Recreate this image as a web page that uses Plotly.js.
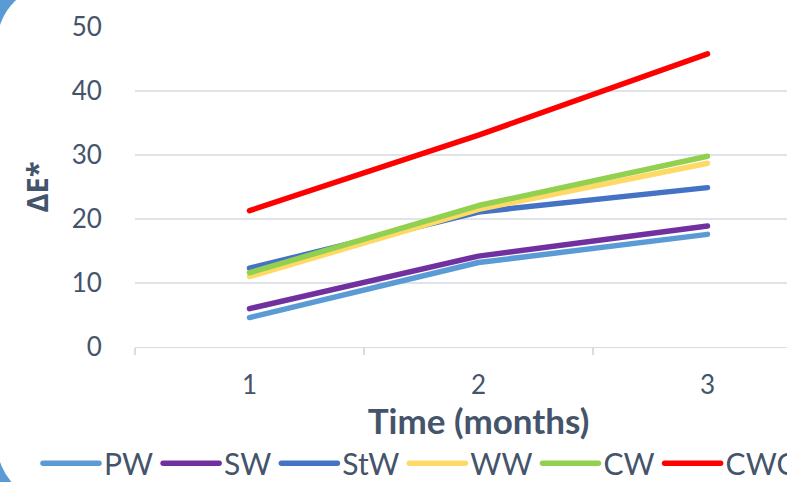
<!DOCTYPE html>
<html>
<head>
<meta charset="utf-8">
<script src="https://cdn.plot.ly/plotly-3.0.1.min.js"></script>
<style>
  html, body { margin: 0; padding: 0; overflow: hidden; background: #5B9BD5; }
  #wrap { position: relative; width: 787px; height: 482px; overflow: hidden; background: #5B9BD5; }
  #frame { position: absolute; left: -3.5px; top: -15.7px; width: 960px; height: 518.5px; border-radius: 60px; background: #ffffff; }
  #chart { position: absolute; left: 0; top: 0; width: 900px; height: 482px; }
  #chart .js-line { stroke-linecap: round; stroke-linejoin: round; }
</style>
</head>
<body>
<div id="wrap"><div id="frame"></div><div id="chart"></div></div>
<script>
const months = [1, 2, 3];
const tickLabels = ['1', '2', '3'];
const seriesNames = ['PW', 'SW', 'StW', 'WW', 'CW', 'CWC'];
const PW  = [4.6, 13.2, 17.6];
const SW  = [6.0, 14.2, 18.9];
const StW = [12.3, 21.1, 24.9];
const WW  = [11.0, 21.5, 28.7];
const CW  = [11.6, 22.1, 29.8];
const CWC = [21.3, 33.1, 45.8];
const seriesValues = [PW, SW, StW, WW, CW, CWC];
const seriesColors = ['#5B9BD5', '#7030A0', '#4472C4', '#FFD966', '#92D050', '#FF0000'];

const textColor = '#44546A';
const gridColor = '#e0e3e8';
const W = 900;
const plotL = 135, plotR = 822, plotT = 27, plotB = 347.5;
const plotW = plotR - plotL, plotH = plotB - plotT;

const traces = seriesNames.map((n, i) => ({
  type: 'scatter',
  mode: 'lines',
  name: n,
  x: months,
  y: seriesValues[i],
  line: { color: seriesColors[i], width: 5.5 }
}));

const layout = {
  width: W,
  height: 482,
  margin: { l: plotL, r: W - plotR, t: plotT, b: 482 - plotB, autoexpand: false },
  paper_bgcolor: 'rgba(0,0,0,0)',
  plot_bgcolor: 'rgba(0,0,0,0)',
  font: { family: 'Lato, "Open Sans", sans-serif', color: textColor, size: 26 },
  showlegend: true,
  legend: {
    orientation: 'h',
    xref: 'paper', yref: 'paper',
    x: (38 - plotL) / plotW, xanchor: 'left',
    y: -(438 - plotB) / plotH, yanchor: 'top',
    itemwidth: 56,
    font: { size: 30, color: textColor },
    bgcolor: 'rgba(0,0,0,0)'
  },
  xaxis: {
    type: 'linear',
    range: [0.5, 3.5],
    tickmode: 'array',
    tickvals: months,
    ticktext: tickLabels,
    ticks: 'outside',
    ticklen: 14,
    tickcolor: 'rgba(0,0,0,0)',
    showgrid: false,
    zeroline: false,
    showline: true,
    linecolor: '#d9dde3',
    linewidth: 1.3,
    minor: { tickmode: 'array', tickvals: [0.5, 1.5, 2.5, 3.5], ticks: 'outside', ticklen: 7, tickcolor: '#d9dde3', tickwidth: 1.3, showgrid: false },
    tickfont: { size: 26, color: textColor },
    title: { text: 'Time (months)', standoff: 2, font: { size: 35, color: textColor, weight: 'bold' } },
    fixedrange: true
  },
  yaxis: {
    range: [0, 50],
    tickmode: 'array',
    tickvals: [0, 10, 20, 30, 40, 50],
    ticks: 'outside',
    ticklen: 27,
    tickcolor: 'rgba(0,0,0,0)',
    showgrid: true,
    gridcolor: gridColor,
    gridwidth: 1.3,
    zeroline: false,
    showline: false,
    tickfont: { size: 26, color: textColor },
    title: { text: 'ΔE*', standoff: 14, font: { family: '"Open Sans", sans-serif', size: 29, color: textColor, weight: 'bold' } },
    fixedrange: true
  }
};

Plotly.newPlot('chart', traces, layout, { displayModeBar: false, responsive: false, staticPlot: true });
</script>
</body>
</html>
